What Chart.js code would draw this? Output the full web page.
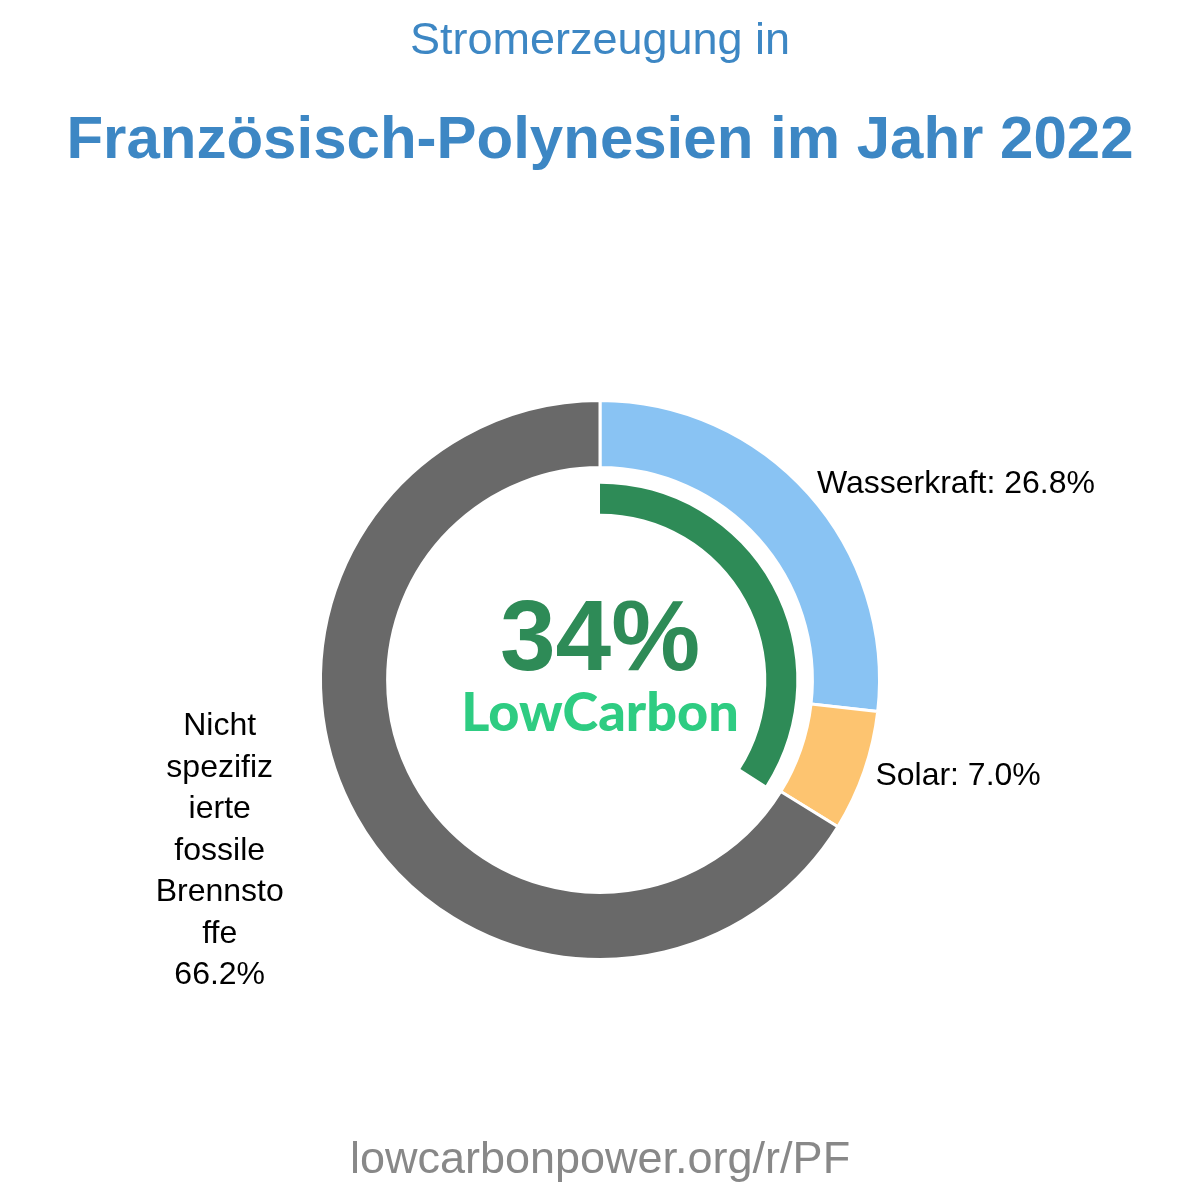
<!DOCTYPE html>
<html>
<head>
<meta charset="utf-8">
<script src="https://cdn.jsdelivr.net/npm/chart.js@4.4.1/dist/chart.umd.min.js"></script>
<style>
html,body{margin:0;padding:0;background:#fff;}
#wrap{width:1200px;height:1200px;}
</style>
</head>
<body>
<div id="wrap"><canvas id="c" width="1200" height="1200"></canvas></div>
<script>
// Data
const categories = ["Wasserkraft", "Solar", "Nicht spezifizierte fossile Brennstoffe"];
const shares = [26.8, 7.0, 66.2];
const sliceColors = ["#89c3f3", "#fdc470", "#696969"];
const lowCarbonShare = [34, 66];
const titleLine1 = "Stromerzeugung in";
const titleLine2 = "Französisch-Polynesien im Jahr 2022";
const centerValue = "34%";
const centerBrand = "LowCarbon";
const footer = "lowcarbonpower.org/r/PF";

const FONT = "'Liberation Sans', Arial, Helvetica, sans-serif";

function wrapLabel(text, maxChars) {
  const words = text.split(" ");
  const lines = [];
  let cur = "";
  for (let w of words) {
    let candidate = cur ? cur + " " + w : w;
    if (candidate.length <= maxChars) { cur = candidate; continue; }
    if (cur) { lines.push(cur); cur = ""; }
    while (w.length > maxChars) { lines.push(w.slice(0, maxChars)); w = w.slice(maxChars); }
    cur = w;
  }
  if (cur) lines.push(cur);
  return lines;
}

const textPlugin = {
  id: 'texts',
  afterDraw(chart) {
    const ctx = chart.ctx;
    ctx.save();
    ctx.textBaseline = 'middle';
    ctx.textAlign = 'center';
    // titles
    ctx.fillStyle = '#3d87c4';
    ctx.font = "normal 45px " + FONT;
    ctx.fillText(titleLine1, 600, 42);
    ctx.font = "bold 60px " + FONT;
    ctx.fillText(titleLine2, 600, 141);
    // footer
    ctx.fillStyle = '#888888';
    ctx.font = "normal 45px " + FONT;
    ctx.fillText(footer, 600, 1161);

    // center
    const meta0 = chart.getDatasetMeta(0);
    const a0 = meta0.data[0];
    const cx = a0.x, cy = a0.y;
    ctx.fillStyle = '#2e8b57';
    ctx.font = "bold 100px " + FONT;
    ctx.fillText(centerValue, cx, cy - 38);
    ctx.fillStyle = '#2ecc82';
    ctx.font = "900 54px 'Lato', " + FONT;
    ctx.fillText(centerBrand, cx, cy + 34);

    // slice labels
    ctx.fillStyle = '#000';
    ctx.font = "normal 32px " + FONT;
    meta0.data.forEach((arc, i) => {
      const mid = (arc.startAngle + arc.endAngle) / 2;
      const r = arc.outerRadius + 14;
      const ax = cx + r * Math.cos(mid);
      const ay = cy + r * Math.sin(mid);
      const txt = categories[i] + ": " + shares[i].toFixed(1) + "%";
      if (Math.cos(mid) >= 0) {
        ctx.textAlign = 'left';
        ctx.fillText(txt, ax - 2, ay);
      } else {
        const lines = wrapLabel(categories[i], 8);
        lines.push(shares[i].toFixed(1) + "%");
        const lh = 41.5;
        const bx = ax - 124;
        const by = ay + 28;
        ctx.textAlign = 'center';
        lines.forEach((l, k) => {
          ctx.fillText(l, bx, by + (k - (lines.length - 1) / 2) * lh);
        });
      }
    });
    ctx.restore();
  }
};

new Chart(document.getElementById('c'), {
  type: 'doughnut',
  data: {
    labels: categories,
    datasets: [
      { data: shares, backgroundColor: sliceColors, borderColor: '#ffffff', borderWidth: 3, weight: 67 },
      { data: [1], backgroundColor: ['rgba(0,0,0,0)'], borderWidth: 0, weight: 16 },
      { data: lowCarbonShare, backgroundColor: ['#2e8b57', 'rgba(0,0,0,0)'], borderWidth: 0, weight: 30 }
    ]
  },
  options: {
    responsive: false,
    animation: false,
    cutout: '59.5%',
    layout: { padding: { top: 399, bottom: 239, left: 319, right: 319 } },
    plugins: { legend: { display: false }, tooltip: { enabled: false }, title: { display: false } },
    events: []
  },
  plugins: [textPlugin]
});
</script>
</body>
</html>
